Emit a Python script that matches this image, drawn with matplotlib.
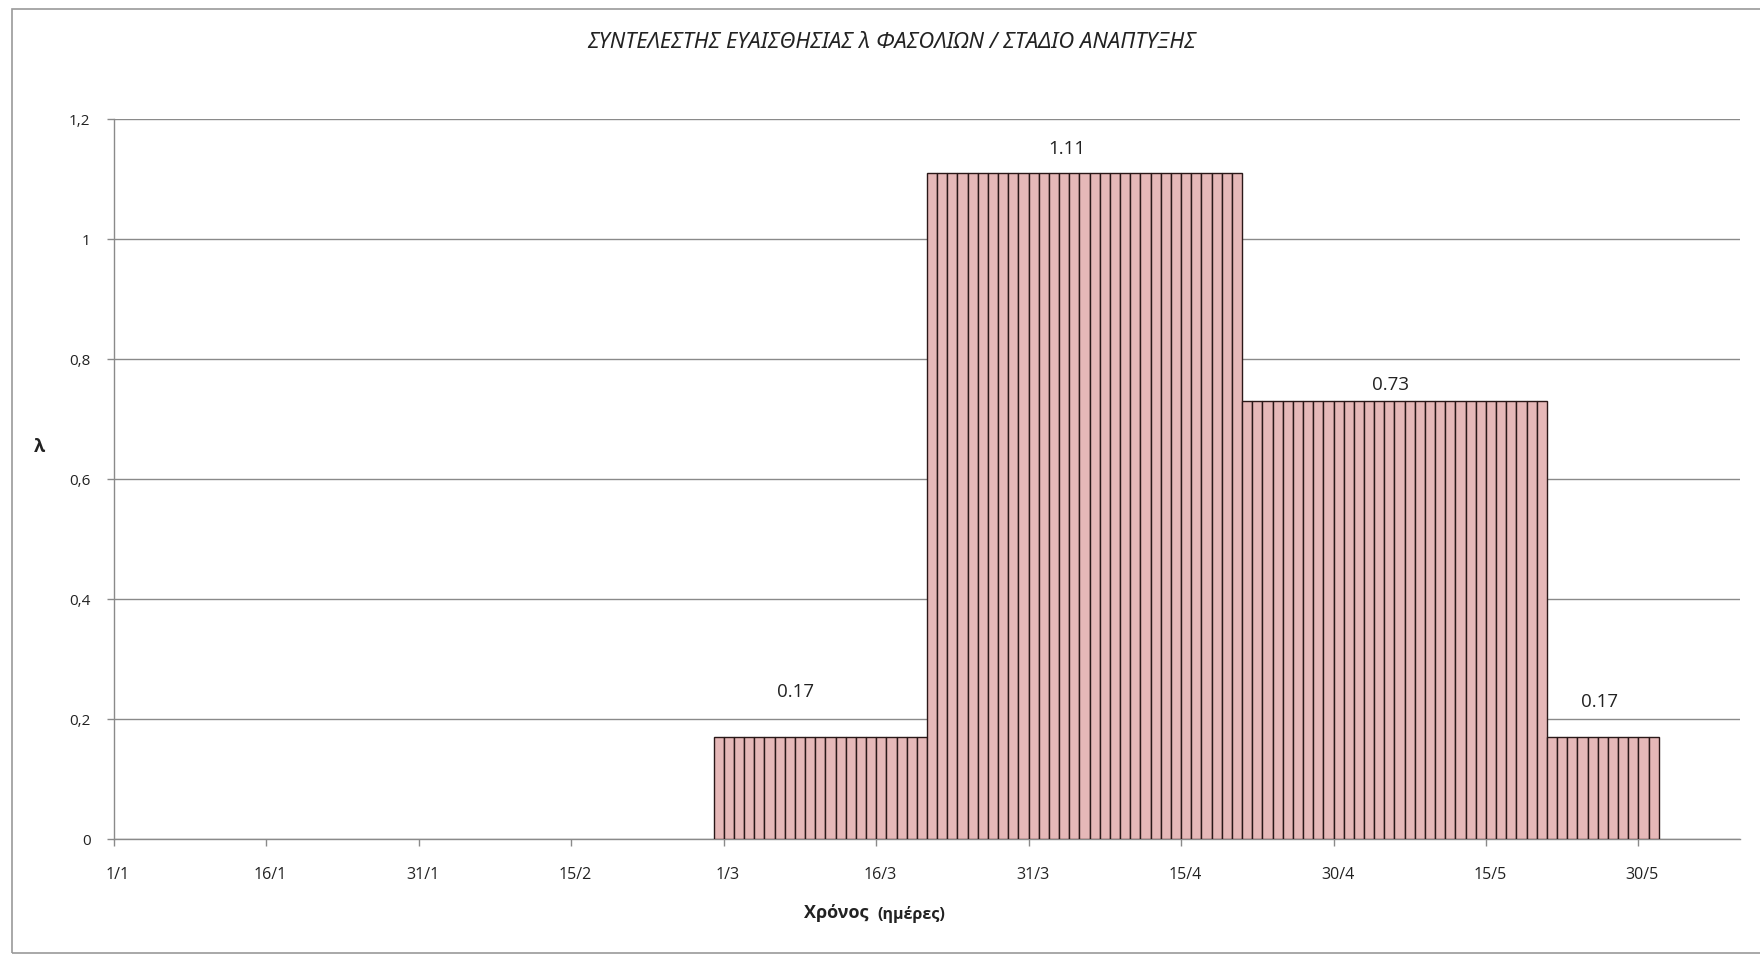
import numpy as np
import matplotlib
matplotlib.use("Agg")
import matplotlib.pyplot as plt
from matplotlib.patches import Rectangle
from matplotlib.transforms import ScaledTranslation

# Growth stages of the bean crop: length in days and sensitivity coefficient λ
first_day_index = 59                     # 29/2 (leap year), counted from 1/1
stage_days = [21, 31, 30, 11]
stage_values = [0.17, 1.11, 0.73, 0.17]
n_days = 160

tick_days = [0, 15, 30, 45, 60, 75, 90, 105, 120, 135, 150]
tick_labels = ["1/1", "16/1", "31/1", "15/2", "1/3", "16/3", "31/3",
               "15/4", "30/4", "15/5", "30/5"]
y_ticks = [0, 0.2, 0.4, 0.6, 0.8, 1.0, 1.2]
y_tick_labels = ["0", "0,2", "0,4", "0,6", "0,8", "1", "1,2"]

title = "ΣΥΝΤΕΛΕΣΤΗΣ ΕΥΑΙΣΘΗΣΙΑΣ λ ΦΑΣΟΛΙΩΝ / ΣΤΑΔΙΟ ΑΝΑΠΤΥΞΗΣ"

# daily series built from the stage table
daily = np.zeros(n_days)
start = first_day_index
stage_bounds = []
for d, v in zip(stage_days, stage_values):
    daily[start:start + d] = v
    stage_bounds.append((start, start + d))
    start += d

W, H = 1760, 955
fig = plt.figure(figsize=(W / 100, H / 100), dpi=100)
fig.patch.set_facecolor("white")

ax = fig.add_axes([114 / W, 1 - 839.3 / H, (1740 - 114) / W, (839.3 - 119) / H])

grid_c = "#8a8a8a"
base_font = ["Open Sans", "DejaVu Sans"]

days = np.arange(n_days)
mask = daily > 0
ax.bar(days[mask], daily[mask], width=1.0, align="edge",
       color="#e6b8b8", edgecolor="#2a1818", linewidth=1.0, zorder=3)

ax.set_xlim(0, n_days)
ax.set_ylim(0, 1.2)
ax.set_yticks(y_ticks)
ax.set_yticklabels(y_tick_labels, family=base_font, fontsize=11, color="#222222")
ax.set_xticks(tick_days)
ax.set_xticklabels(tick_labels, family=base_font, fontsize=11.5, color="#222222")
ax.yaxis.grid(True, color=grid_c, linewidth=1.0, zorder=0)
ax.set_axisbelow(True)
ax.tick_params(axis="both", direction="out", length=5, width=1.0, color=grid_c)
ax.tick_params(axis="x", pad=15)
ax.tick_params(axis="y", pad=12)
shift = ScaledTranslation(4 / 100, 0, fig.dpi_scale_trans)
for lbl in ax.get_xticklabels():
    lbl.set_transform(lbl.get_transform() + shift)
for side in ("top", "right"):
    ax.spines[side].set_visible(False)
for side in ("left", "bottom"):
    ax.spines[side].set_color(grid_c)
    ax.spines[side].set_linewidth(1.0)

# value labels above each stage
label_offsets = [(-25, 45), (-18, 24), (-4, 16), (-3, 35)]
for (s, e), v, (dx, dy) in zip(stage_bounds, stage_values, label_offsets):
    ax.annotate(f"{v:.2f}", xy=((s + e) / 2, v), xytext=(dx, dy),
                textcoords="offset pixels", ha="center", va="center",
                fontsize=13.5, family=base_font, color="#222222")

fig.text(892 / W, 1 - 42 / H, title, ha="center", va="center",
         fontsize=15.8, style="italic",
         family=["Liberation Sans Narrow", "Noto Sans", "DejaVu Sans"],
         color="#222222")

fig.text(39 / W, 1 - 447 / H, "λ", ha="center", va="center",
         fontsize=13, fontweight="bold", family=base_font, color="#222222")

fig.text(836 / W, 1 - 913 / H, "Χρόνος", ha="center", va="center",
         fontsize=13, fontweight="bold", family=base_font, color="#222222")
fig.text(877 / W, 1 - 914 / H, "(ημέρες)", ha="left", va="center",
         fontsize=11.5, fontweight="bold", family=base_font, color="#222222")

# chart frame
fig.patches.append(Rectangle((12 / W, 2 / H), 2.0, (953 - 9) / H,
                             transform=fig.transFigure, fill=False,
                             edgecolor="#9a9a9a", linewidth=1.2))

fig.savefig("out.png", dpi=100)
